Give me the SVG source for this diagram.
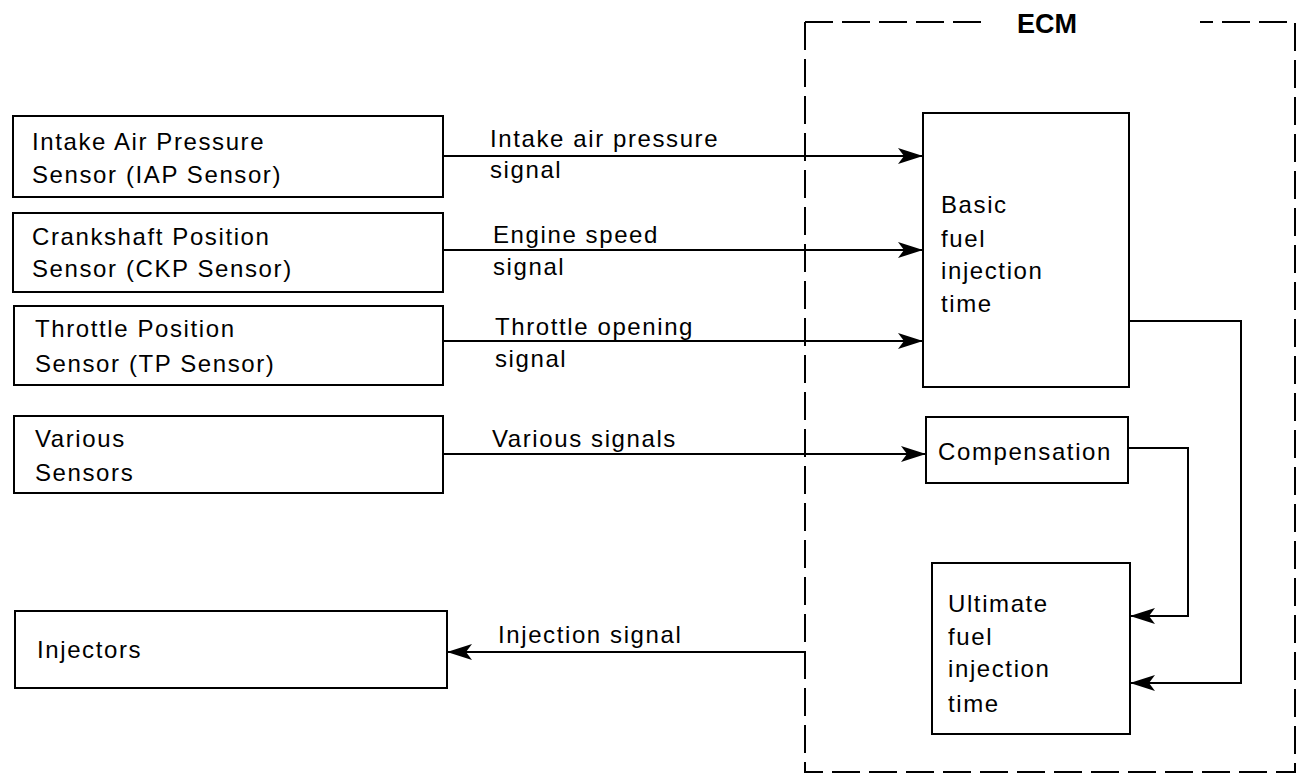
<svg xmlns="http://www.w3.org/2000/svg" width="1305" height="775" viewBox="0 0 1305 775">
  <style>
    .box { fill: none; stroke: #000; stroke-width: 2; }
    .ecm { fill: none; stroke: #000; stroke-width: 2; stroke-dasharray: 28 9; }
    .wire { fill: none; stroke: #000; stroke-width: 2; }
    .t { font-family: "Liberation Sans", Arial, sans-serif; font-size: 24px; letter-spacing: 1.6px; fill: #000; }
    .title { font-family: "Liberation Sans", Arial, sans-serif; font-size: 27px; font-weight: bold; fill: #000; }
  </style>
  <defs>
    <marker id="arrow" markerUnits="userSpaceOnUse" markerWidth="28" markerHeight="18" refX="25" refY="8" orient="auto">
      <path d="M0,0 L25,8 L0,16 L6,8 z" fill="#000"/>
    </marker>
  </defs>
  <rect width="1305" height="775" fill="#fff"/>

  <g id="ecm">
    <path class="ecm" d="M805,22 L805,772 L1295,772 L1295,22 L1200,22"/>
    <path class="ecm" d="M805,22 L985,22"/>
    <text class="title" x="1017" y="33">ECM</text>
  </g>

  <g id="iap-sensor">
    <rect class="box" x="13" y="116" width="430" height="81"/>
    <text class="t" x="32" y="150">Intake Air Pressure</text>
    <text class="t" x="32" y="183">Sensor (IAP Sensor)</text>
  </g>
  <g id="ckp-sensor">
    <rect class="box" x="13" y="213" width="430" height="79"/>
    <text class="t" x="32" y="245">Crankshaft Position</text>
    <text class="t" x="32" y="277">Sensor (CKP Sensor)</text>
  </g>
  <g id="tp-sensor">
    <rect class="box" x="14" y="306" width="429" height="79"/>
    <text class="t" x="35" y="337">Throttle Position</text>
    <text class="t" x="35" y="372">Sensor (TP Sensor)</text>
  </g>
  <g id="various-sensors">
    <rect class="box" x="14" y="416" width="429" height="77"/>
    <text class="t" x="35" y="447">Various</text>
    <text class="t" x="35" y="481">Sensors</text>
  </g>
  <g id="injectors">
    <rect class="box" x="15" y="611" width="432" height="77"/>
    <text class="t" x="37" y="658">Injectors</text>
  </g>

  <g id="basic-time">
    <rect class="box" x="923" y="113" width="206" height="274"/>
    <text class="t" x="941" y="213">Basic</text>
    <text class="t" x="941" y="247">fuel</text>
    <text class="t" x="941" y="279">injection</text>
    <text class="t" x="941" y="312">time</text>
  </g>
  <g id="compensation">
    <rect class="box" x="926" y="417" width="202" height="66"/>
    <text class="t" x="938" y="460">Compensation</text>
  </g>
  <g id="ultimate-time">
    <rect class="box" x="932" y="563" width="198" height="171"/>
    <text class="t" x="948" y="612">Ultimate</text>
    <text class="t" x="948" y="645">fuel</text>
    <text class="t" x="948" y="677">injection</text>
    <text class="t" x="948" y="712">time</text>
  </g>

  <g id="connectors">
    <path class="wire" d="M443,156 L923,156" marker-end="url(#arrow)"/>
    <path class="wire" d="M443,250 L923,250" marker-end="url(#arrow)"/>
    <path class="wire" d="M443,341 L923,341" marker-end="url(#arrow)"/>
    <path class="wire" d="M443,454 L926,454" marker-end="url(#arrow)"/>
    <path class="wire" d="M805,652 L447,652" marker-end="url(#arrow)"/>
    <path class="wire" d="M1129,321 L1241,321 L1241,683 L1130,683" marker-end="url(#arrow)"/>
    <path class="wire" d="M1128,448 L1188,448 L1188,616 L1130,616" marker-end="url(#arrow)"/>
    <text class="t" x="490" y="147">Intake air pressure</text>
    <text class="t" x="490" y="178">signal</text>
    <text class="t" x="493" y="243">Engine speed</text>
    <text class="t" x="493" y="275">signal</text>
    <text class="t" x="495" y="335">Throttle opening</text>
    <text class="t" x="495" y="367">signal</text>
    <text class="t" x="492" y="447">Various signals</text>
    <text class="t" x="498" y="643">Injection signal</text>
  </g>
</svg>
